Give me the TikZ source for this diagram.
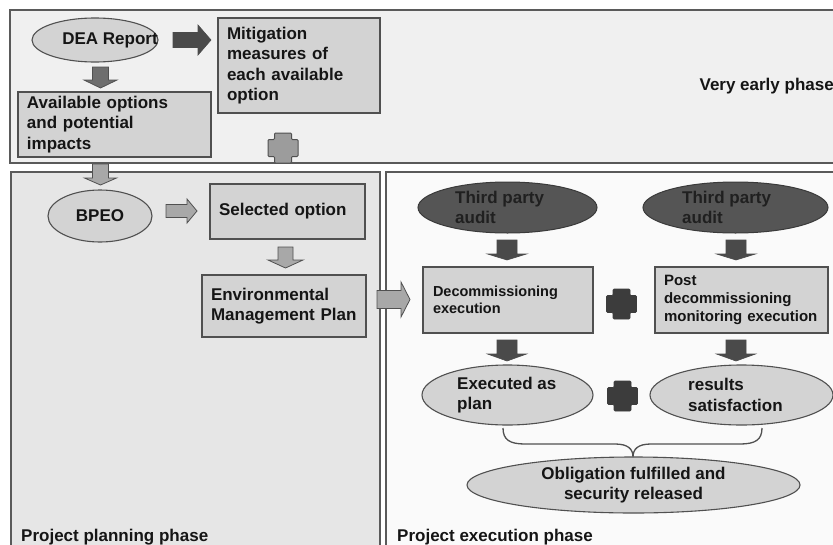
\documentclass[tikz,border=0pt]{standalone}
\usepackage{fontspec}
\setmainfont{Liberation Sans}
\usetikzlibrary{shapes.geometric}
\definecolor{panelline}{HTML}{5A5A5A}
\definecolor{topfill}{HTML}{F0F0F0}
\definecolor{planfill}{HTML}{E6E6E6}
\definecolor{execfill}{HTML}{FAFAFA}
\definecolor{boxfill}{HTML}{D3D3D3}
\definecolor{boxline}{HTML}{505050}
\definecolor{darkfill}{HTML}{555555}
\definecolor{darkline}{HTML}{3A3A3A}
\definecolor{darktext}{HTML}{202020}
\definecolor{arrdarkc}{HTML}{4A4A4A}
\definecolor{arrmidc}{HTML}{6E6E6E}
\definecolor{arrlightc}{HTML}{A8A8A8}
\definecolor{plusgrayc}{HTML}{9C9C9C}
\definecolor{plusdarkc}{HTML}{3C3C3C}
\definecolor{textc}{HTML}{151515}
% block arrow pointing down: style, top-centre coordinate, length, shaft half, head half, head length
\newcommand\blkdown[6]{\draw[#1] (#2) ++(-#4,0) -- ++(0,{#3-#6}) -- ++({#4-#5},0) -- ++(#5,#6) -- ++(#5,-#6) -- ++({#4-#5},0) -- ++(0,{#6-#3}) -- cycle;}
% block arrow pointing right: style, left-centre coordinate, length, shaft half, head half, head length
\newcommand\blkright[6]{\draw[#1] (#2) ++(0,-#4) -- ++({#3-#6},0) -- ++(0,{#4-#5}) -- ++(#6,#5) -- ++(-#6,#5) -- ++(0,{#4-#5}) -- ++({#6-#3},0) -- cycle;}
% plus sign centred on a coordinate
\newcommand\plusat[2]{\draw[#1] (#2) ++(-8.5,-15) -- ++(17,0) -- ++(0,6.5) -- ++(6.5,0) -- ++(0,17) -- ++(-6.5,0) -- ++(0,6.5) -- ++(-17,0) -- ++(0,-6.5) -- ++(-6.5,0) -- ++(0,-17) -- ++(6.5,0) -- cycle;}
\tikzset{
  panel/.style={draw=panelline, line width=1.4pt},
  box/.style={rectangle, draw=boxline, fill=boxfill, line width=1.1pt, inner xsep=9pt, inner ysep=0pt, align=left},
  ell/.style={ellipse, draw=boxline, fill=boxfill, line width=1.1pt, inner sep=0pt},
  darkell/.style={ellipse, draw=darkline, fill=darkfill, line width=1pt, inner sep=0pt},
  lbl/.style={inner sep=0pt, align=left},
  arrdark/.style={fill=arrdarkc, draw=arrdarkc, line width=0.6pt},
  arrmid/.style={fill=arrmidc, draw=boxline, line width=0.8pt},
  arrlight/.style={fill=arrlightc, draw=boxline, line width=0.8pt},
  plusgray/.style={fill=plusgrayc, draw=boxline, line width=1pt, rounded corners=1pt},
  plusdark/.style={fill=plusdarkc, draw=plusdarkc, line width=0.6pt, rounded corners=1pt},
  brace/.style={draw=boxline, line width=1.3pt}
}
\begin{document}
\begin{tikzpicture}[x=1pt,y=-1pt, font=\fontsize{17}{20.5}\selectfont\bfseries, text=textc]
\clip (0,0) rectangle (833,544);
\fill[white] (0,0) rectangle (833,544);
% panels
\draw[panel, fill=topfill] (10,10) rectangle (850,163);
\draw[panel, fill=planfill] (11,172) rectangle (380,560);
\draw[panel, fill=execfill] (386,172) rectangle (850,560);
\node[lbl, anchor=east] (vep) at (834,86) {Very early phase};
\node[lbl, anchor=base west] (ppp) at (21,541) {Project planning phase};
\node[lbl, anchor=base west] (pep) at (397,541) {Project execution phase};
% very early phase
\node[ell, minimum width=126pt, minimum height=44pt] (dea) at (95,40) {};
\node[lbl] (deat) at (110,40) {DEA Report};
\node[box, text width=144pt, minimum height=95pt] (mit) at (299,65.5) {Mitigation\\measures of\\each available\\option};
\node[box, text width=175pt, minimum height=65pt] (avail) at (114.5,124.5) {Available options\\and potential\\impacts};
\coordinate (a1) at (173,40);
\blkright{arrdark}{a1}{38}{7.5}{15}{13}
\coordinate (a2) at (100.5,67);
\blkdown{arrmid}{a2}{21}{8}{16.5}{8}
\coordinate (plus1) at (283,148);
\plusat{plusgray}{plus1}
% planning phase
\coordinate (a3) at (100.5,164);
\blkdown{arrlight}{a3}{21}{8}{16}{7}
\node[ell, minimum width=104pt, minimum height=52pt] (bpeo) at (100,216) {BPEO};
\coordinate (a4) at (166,211);
\blkright{arrlight}{a4}{31}{6.5}{12}{10}
\node[box, text width=137pt, minimum height=55pt] (sel) at (287.5,211.5) {Selected option};
\coordinate (a5) at (285.5,247);
\blkdown{arrlight}{a5}{21}{7.5}{17.5}{8}
\node[box, text width=146pt, minimum height=62pt] (emp) at (284,306) {Environmental\\Management Plan};
\coordinate (a6) at (377,299.5);
\blkright{arrlight}{a6}{33}{9}{17.5}{9}
% execution phase
\node[darkell, minimum width=179pt, minimum height=51pt] (tpa1) at (507.5,207.5) {};
\node[lbl, anchor=west, text=darktext, font=\fontsize{17}{19.5}\selectfont\bfseries] (tpa1t) at (455,207.5) {Third party\\audit};
\node[darkell, minimum width=185pt, minimum height=51pt] (tpa2) at (735.5,207.5) {};
\node[lbl, anchor=west, text=darktext, font=\fontsize{17}{19.5}\selectfont\bfseries] (tpa2t) at (682,207.5) {Third party\\audit};
\coordinate (a7) at (507,240);
\blkdown{arrdark}{a7}{20}{10}{19.5}{6}
\coordinate (a8) at (736,240);
\blkdown{arrdark}{a8}{20}{10}{19.5}{6}
\node[box, inner xsep=10pt, font=\fontsize{14.5}{16.5}\selectfont\bfseries, text width=150pt, minimum height=66pt] (dec) at (508,300) {Decommissioning\\execution};
\node[box, font=\fontsize{15}{18}\selectfont\bfseries, text width=155pt, minimum height=66pt] (post) at (741.5,300) {Post\\decommissioning\\monitoring execution};
\coordinate (plus2) at (621.5,304);
\plusat{plusdark}{plus2}
\coordinate (a9) at (507,340);
\blkdown{arrdark}{a9}{21}{10}{19.5}{7}
\coordinate (a10) at (736,340);
\blkdown{arrdark}{a10}{21}{10}{19.5}{7}
\node[ell, minimum width=171pt, minimum height=60pt] (exe) at (507.5,395) {};
\node[lbl, anchor=west] (exet) at (457,395) {Executed as\\plan};
\node[ell, minimum width=183pt, minimum height=60pt] (res) at (741.5,395) {};
\node[lbl, anchor=west] (rest) at (688,395) {results\\satisfaction};
\coordinate (plus3) at (622.5,396);
\plusat{plusdark}{plus3}
\node[ell, minimum width=333pt, minimum height=56pt, align=center] (obl) at (633.5,485) {Obligation fulfilled and\\security released};
% brace
\coordinate (bl) at (503,428);
\coordinate (br) at (762,428);
\coordinate (bt) at (633,457);
\draw[brace] (bl) .. controls (503,440) and (510,444) .. (525,444) -- (615,444) .. controls (628,444) and (633,449) .. (bt) .. controls (633,449) and (638,444) .. (651,444) -- (740,444) .. controls (755,444) and (762,440) .. (br);
\end{tikzpicture}
\end{document}
